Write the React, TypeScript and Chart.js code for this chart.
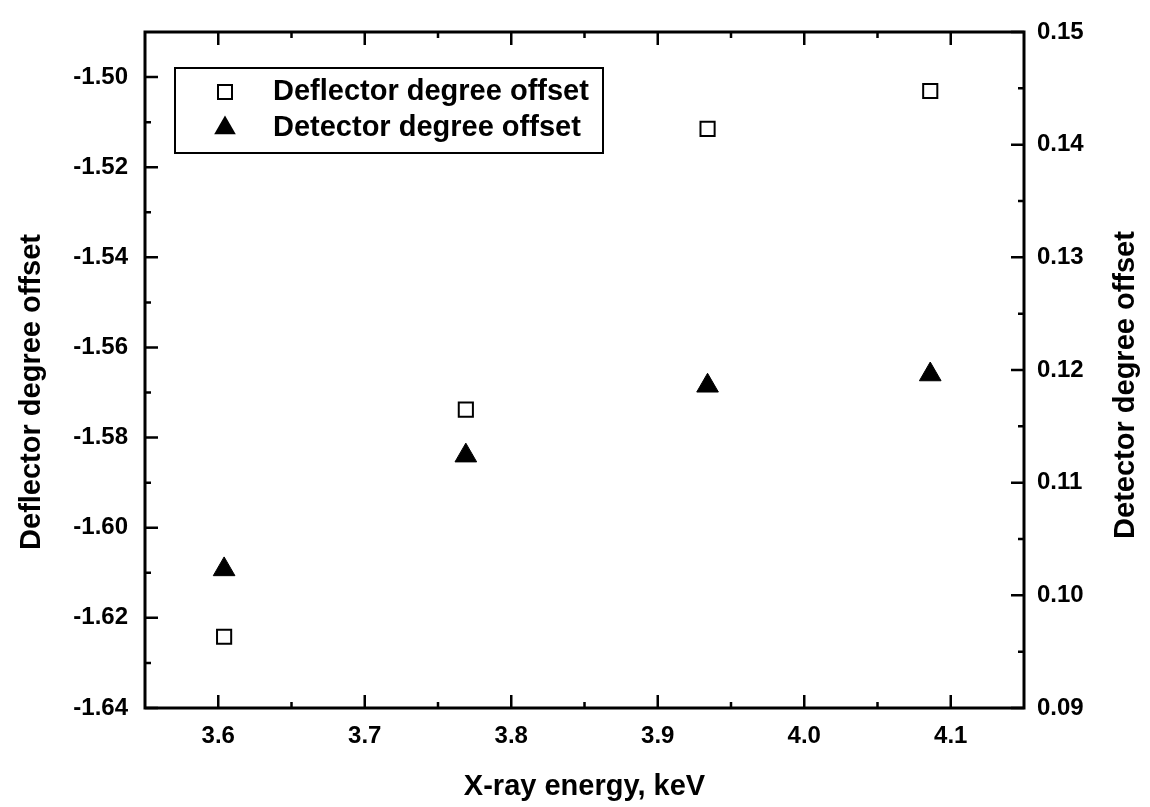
import React, { useEffect, useRef } from "react";
import { Chart, registerables } from "chart.js";

Chart.register(...registerables);

// ---- data ----
const energies = [3.604, 3.769, 3.934, 4.086];
const deflectorOffset = [-1.6242, -1.5738, -1.5115, -1.5031];
const detectorOffset = [0.1023, 0.1124, 0.1186, 0.1196];
const seriesNames = ["Deflector degree offset", "Detector degree offset"];

const xTicks = [3.6, 3.7, 3.8, 3.9, 4.0, 4.1];
const leftTicks = [-1.64, -1.62, -1.6, -1.58, -1.56, -1.54, -1.52, -1.5];
const rightTicks = [0.09, 0.1, 0.11, 0.12, 0.13, 0.14, 0.15];
const xRange = [3.55, 4.15];
const leftRange = [-1.64, -1.49];
const rightRange = [0.09, 0.15];

const xTitle = "X-ray energy, keV";
const leftTitle = "Deflector degree offset";
const rightTitle = "Detector degree offset";

const FONT = "'Liberation Sans', Arial, Helvetica, sans-serif";

function midpoints(arr: number[], lo: number, hi: number): number[] {
  const step = arr[1] - arr[0];
  const out: number[] = [];
  for (let i = -1; i < arr.length; i++) {
    const v = arr[0] + (i + 0.5) * step;
    if (v > lo + 1e-9 && v < hi - 1e-9) out.push(v);
  }
  return out;
}

function drawSquare(ctx: CanvasRenderingContext2D, x: number, y: number) {
  ctx.save();
  ctx.fillStyle = "#fff";
  ctx.strokeStyle = "#000";
  ctx.lineWidth = 2;
  ctx.fillRect(x - 7, y - 7, 14, 14);
  ctx.strokeRect(x - 7, y - 7, 14, 14);
  ctx.restore();
}

function drawTriangle(ctx: CanvasRenderingContext2D, x: number, y: number) {
  const r = 12.5;
  ctx.save();
  ctx.fillStyle = "#000";
  ctx.beginPath();
  ctx.moveTo(x, y - r);
  ctx.lineTo(x + r * Math.sin(Math.PI / 3), y + r / 2);
  ctx.lineTo(x - r * Math.sin(Math.PI / 3), y + r / 2);
  ctx.closePath();
  ctx.fill();
  ctx.restore();
}

const framePlugin = {
  id: "framePlugin",
  afterDraw(chart: any) {
    const { ctx, chartArea: a } = chart;
    const xs = chart.scales.x;
    const yl = chart.scales.y;
    const yr = chart.scales.y2;
    const major = 13;
    const minor = 6;
    ctx.save();
    ctx.strokeStyle = "#000";
    ctx.lineWidth = 2.5;
    ctx.beginPath();
    const xMinor = midpoints(xTicks, xRange[0], xRange[1]);
    xTicks.forEach((v) => {
      const p = xs.getPixelForValue(v);
      ctx.moveTo(p, a.bottom);
      ctx.lineTo(p, a.bottom - major);
      ctx.moveTo(p, a.top);
      ctx.lineTo(p, a.top + major);
    });
    xMinor.forEach((v) => {
      const p = xs.getPixelForValue(v);
      ctx.moveTo(p, a.bottom);
      ctx.lineTo(p, a.bottom - minor);
      ctx.moveTo(p, a.top);
      ctx.lineTo(p, a.top + minor);
    });
    leftTicks.forEach((v) => {
      const p = yl.getPixelForValue(v);
      ctx.moveTo(a.left, p);
      ctx.lineTo(a.left + major, p);
    });
    midpoints(leftTicks, leftRange[0], leftRange[1]).forEach((v) => {
      const p = yl.getPixelForValue(v);
      ctx.moveTo(a.left, p);
      ctx.lineTo(a.left + minor, p);
    });
    rightTicks.forEach((v) => {
      const p = yr.getPixelForValue(v);
      ctx.moveTo(a.right, p);
      ctx.lineTo(a.right - major, p);
    });
    midpoints(rightTicks, rightRange[0], rightRange[1]).forEach((v) => {
      const p = yr.getPixelForValue(v);
      ctx.moveTo(a.right, p);
      ctx.lineTo(a.right - minor, p);
    });
    ctx.stroke();

    ctx.lineWidth = 3;
    ctx.strokeRect(a.left, a.top, a.right - a.left, a.bottom - a.top);

    // legend
    const lx = a.left + 30;
    const ly = a.top + 36;
    ctx.lineWidth = 2;
    ctx.fillStyle = "#fff";
    ctx.fillRect(lx, ly, 428, 85);
    ctx.strokeRect(lx, ly, 428, 85);
    drawSquare(ctx, a.left + 80, a.top + 60);
    drawTriangle(ctx, a.left + 80, a.top + 96);
    ctx.fillStyle = "#000";
    ctx.font = `bold 29px ${FONT}`;
    ctx.textAlign = "left";
    ctx.textBaseline = "middle";
    ctx.fillText(seriesNames[0], a.left + 128, a.top + 60);
    ctx.fillText(seriesNames[1], a.left + 128, a.top + 96);

    // y titles (both read bottom-to-top)
    ctx.font = `bold 29px ${FONT}`;
    ctx.textAlign = "center";
    ctx.textBaseline = "middle";
    ctx.save();
    ctx.translate(32, (a.top + a.bottom) / 2 + 22);
    ctx.rotate(-Math.PI / 2);
    ctx.fillText(leftTitle, 0, 0);
    ctx.restore();
    ctx.save();
    ctx.translate(a.right + 102, (a.top + a.bottom) / 2 + 15);
    ctx.rotate(-Math.PI / 2);
    ctx.fillText(rightTitle, 0, 0);
    ctx.restore();
    ctx.restore();
  },
};

export default function App() {
  const ref = useRef<HTMLCanvasElement | null>(null);
  useEffect(() => {
    if (!ref.current) return;
    const tickFont = { family: FONT, size: 24, weight: "bold" };
    const chart = new Chart(ref.current, {
      type: "scatter",
      data: {
        datasets: [
          {
            label: seriesNames[0],
            data: energies.map((e, i) => ({ x: e, y: deflectorOffset[i] })),
            yAxisID: "y",
            pointStyle: "rect",
            pointRadius: 10,
            pointHoverRadius: 10,
            backgroundColor: "#fff",
            borderColor: "#000",
            borderWidth: 2,
            showLine: false,
          },
          {
            label: seriesNames[1],
            data: energies.map((e, i) => ({ x: e, y: detectorOffset[i] })),
            yAxisID: "y2",
            pointStyle: "triangle",
            pointRadius: 12.5,
            pointHoverRadius: 12.5,
            backgroundColor: "#000",
            borderColor: "#000",
            borderWidth: 1,
            showLine: false,
          },
        ],
      },
      options: {
        responsive: false,
        animation: false,
        devicePixelRatio: 1,
        layout: { padding: { top: 32, left: 0, right: 0, bottom: 0 } },
        plugins: { legend: { display: false }, tooltip: { enabled: false } },
        scales: {
          x: {
            type: "linear",
            min: xRange[0],
            max: xRange[1],
            grid: { display: false, drawTicks: false },
            border: { display: false },
            afterBuildTicks: (s: any) => {
              s.ticks = xTicks.map((v) => ({ value: v }));
            },
            afterFit: (s: any) => {
              s.height = 99;
            },
            ticks: {
              padding: 14,
              color: "#000",
              font: tickFont,
              maxRotation: 0,
              callback: (v: any) => Number(v).toFixed(1),
            },
            title: {
              display: true,
              text: xTitle,
              color: "#000",
              font: { family: FONT, size: 29, weight: "bold" },
              padding: { top: 0, bottom: 3 },
            },
          },
          y: {
            type: "linear",
            position: "left",
            min: leftRange[0],
            max: leftRange[1],
            grid: { display: false, drawTicks: false },
            border: { display: false },
            afterBuildTicks: (s: any) => {
              s.ticks = leftTicks.map((v) => ({ value: v }));
            },
            afterFit: (s: any) => {
              s.width = 145;
            },
            ticks: {
              padding: 17,
              color: "#000",
              font: tickFont,
              callback: (v: any) => Number(v).toFixed(2),
            },
          },
          y2: {
            type: "linear",
            position: "right",
            min: rightRange[0],
            max: rightRange[1],
            grid: { display: false, drawTicks: false },
            border: { display: false },
            afterBuildTicks: (s: any) => {
              s.ticks = rightTicks.map((v) => ({ value: v }));
            },
            afterFit: (s: any) => {
              s.width = 126;
            },
            ticks: {
              padding: 13,
              color: "#000",
              font: tickFont,
              callback: (v: any) => Number(v).toFixed(2),
            },
          },
        },
      },
      plugins: [framePlugin],
    } as any);
    return () => chart.destroy();
  }, []);
  return (
    <div style={{ position: "absolute", left: 0, top: 0, width: 1150, height: 807, background: "#fff" }}>
      <canvas ref={ref} width={1150} height={807} style={{ display: "block" }} />
    </div>
  );
}
